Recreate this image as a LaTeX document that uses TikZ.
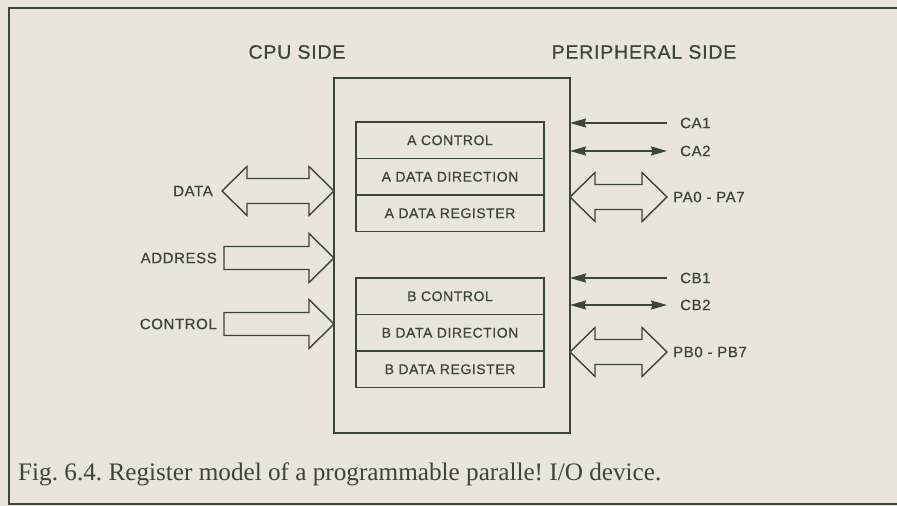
\documentclass[tikz,border=0pt]{standalone}
\usepackage{fontspec}
\newfontfamily\lettering[LetterSpace=4,FakeBold=0.6]{Liberation Sans}
\newfontfamily\captionfont{Liberation Serif}
\usetikzlibrary{arrows.meta,positioning,calc}
\definecolor{ink}{RGB}{58,70,54}
\definecolor{paper}{RGB}{232,229,217}
\tikzset{
  reg/.style={draw=ink, line width=1.5pt, minimum width=188pt, minimum height=36.5pt,
    inner sep=0pt, outer sep=0pt, text=ink, font=\lettering\fontsize{14}{15}\selectfont},
  sig/.style={inner sep=0pt, text=ink, font=\lettering\fontsize{15}{16}\selectfont},
  side/.style={inner sep=0pt, text=ink, font=\lettering\fontsize{19.5}{20}\selectfont},
  bus/.style={draw=ink, line width=1.4pt, line join=miter},
  wire/.style={draw=ink, line width=1.5pt},
}
% fat bus arrows, both ends / one end
\newcommand{\busboth}[2]{%
  \draw[bus] let \p1=(#1), \p2=(#2) in
    (\x1,\y1) -- (\x1+25pt,\y1+24.5pt) -- (\x1+25pt,\y1+12.5pt) -- (\x2-25pt,\y1+12.5pt)
    -- (\x2-25pt,\y1+24.5pt) -- (\x2,\y1) -- (\x2-25pt,\y1-24.5pt) -- (\x2-25pt,\y1-12.5pt)
    -- (\x1+25pt,\y1-12.5pt) -- (\x1+25pt,\y1-24.5pt) -- cycle;}
\newcommand{\busto}[2]{%
  \draw[bus] let \p1=(#1), \p2=(#2) in
    (\x1,\y1+11.5pt) -- (\x2-25pt,\y1+11.5pt) -- (\x2-25pt,\y1+24.5pt) -- (\x2,\y1)
    -- (\x2-25pt,\y1-24.5pt) -- (\x2-25pt,\y1-11.5pt) -- (\x1,\y1-11.5pt) -- cycle;}

\begin{document}
\begin{tikzpicture}[x=1pt, y=-1pt, >={Stealth[length=16pt,width=9pt,inset=1.5pt]}]
  \fill[paper] (0,0) rectangle (897,506);
  \useasboundingbox (0,0) rectangle (897,506);
  \draw[ink, line width=1.2pt] (900,8) -- (9,8) -- (9,504) -- (900,504);

  % Define the titles
  \node[side] (cpu) at (297,52) {CPU SIDE};
  \node[side] (per) at (644,52) {PERIPHERAL SIDE};

  % Define the device and its registers
  \node[draw=ink, line width=1.6pt, minimum width=236pt, minimum height=355pt, outer sep=0pt] (pia) at (452,255.5) {};
  \node[reg] (actl) at (450,140.25) {A CONTROL};
  \node[reg, below=0pt of actl] (adir) {A DATA DIRECTION};
  \node[reg, below=0pt of adir] (areg) {A DATA REGISTER};
  \node[reg] (bctl) at (450,296.25) {B CONTROL};
  \node[reg, below=0pt of bctl] (bdir) {B DATA DIRECTION};
  \node[reg, below=0pt of bdir] (breg) {B DATA REGISTER};

  % Define the CPU side signals
  \node[sig, anchor=east] (data) at (213,191) {DATA};
  \node[sig, anchor=east] (address) at (217,258) {ADDRESS};
  \node[sig, anchor=east] (control) at (217,324) {CONTROL};
  \coordinate[right=9pt of data] (d0);
  \coordinate[right=7pt of address] (a0);
  \coordinate[right=7pt of control] (c0);

  % Define the peripheral side signals
  \node[sig, anchor=west] (ca1) at (680,123) {CA1};
  \node[sig, anchor=west] (ca2) at (680,151) {CA2};
  \node[sig, anchor=west] (pa) at (673,197) {PA0 - PA7};
  \node[sig, anchor=west] (cb1) at (680,278) {CB1};
  \node[sig, anchor=west] (cb2) at (680,305) {CB2};
  \node[sig, anchor=west] (pb) at (673,352) {PB0 - PB7};
  \coordinate[left=6pt of pa] (p0);
  \coordinate[left=6pt of pb] (q0);

  % Draw the buses
  \busboth{d0}{pia.west |- d0}
  \busto{a0}{pia.west |- a0}
  \busto{c0}{pia.west |- c0}
  \busboth{pia.east |- p0}{p0}
  \busboth{pia.east |- q0}{q0}

  % Draw the handshake lines
  \draw[wire, <-] (pia.east |- ca1) -- ([xshift=-13pt]ca1.west);
  \draw[wire, <->] (pia.east |- ca2) -- ([xshift=-13pt]ca2.west);
  \draw[wire, <-] (pia.east |- cb1) -- ([xshift=-13pt]cb1.west);
  \draw[wire, <->] (pia.east |- cb2) -- ([xshift=-13pt]cb2.west);

  % Caption
  \node[anchor=base west, inner sep=0pt, text=ink, font=\captionfont\fontsize{25.2}{27}\selectfont] (cap) at (18,480)
    {\frenchspacing Fig. 6.4. Register model of a programmable paralle! I/O device.};
\end{tikzpicture}
\end{document}
